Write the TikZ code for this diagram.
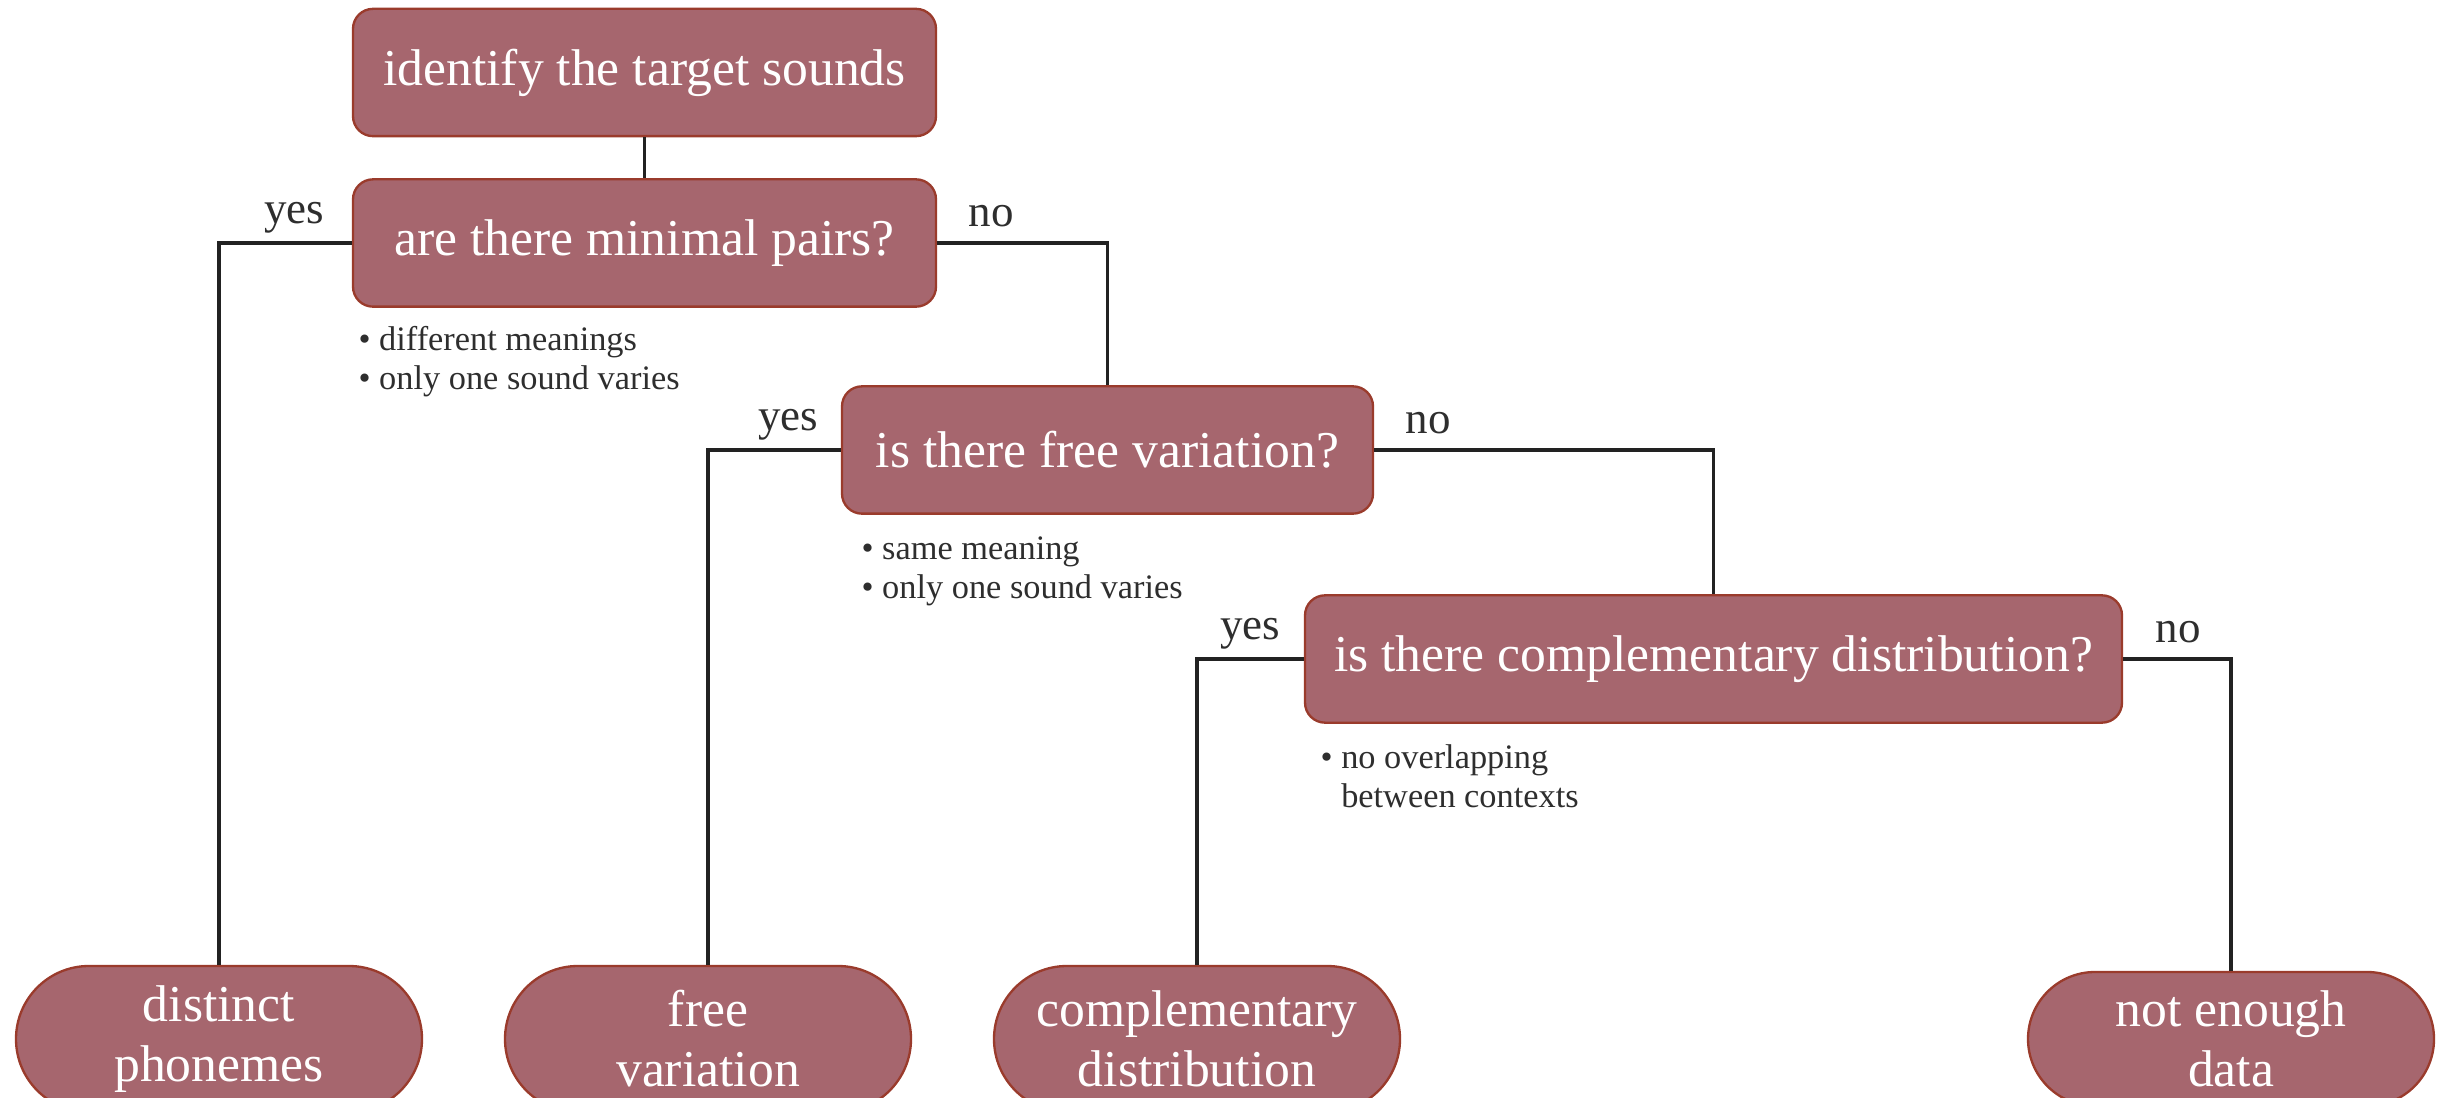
\documentclass[tikz,border=0pt]{standalone}
\usepackage{fontspec}
\setmainfont{Liberation Serif}
\definecolor{boxfill}{HTML}{A6666E}
\definecolor{boxborder}{HTML}{9A3B2C}
\definecolor{linecol}{HTML}{222222}
\definecolor{labcol}{HTML}{2E2E2E}
\begin{document}
\begin{tikzpicture}[x=0.3pt,y=-0.3pt,
  box/.style={draw=boxborder, fill=boxfill, line width=0.7pt, rounded corners=6pt,
    text=white, font=\fontsize{15.5}{18}\selectfont, inner sep=0pt,
    minimum height=38.2pt, align=center},
  endbox/.style={box, rounded corners=21.9pt, minimum width=121.8pt, minimum height=43.8pt},
  conn/.style={draw=linecol, line width=1.1pt},
  lab/.style={text=labcol, font=\fontsize{13.5}{16}\selectfont, inner sep=0pt},
  note/.style={text=labcol, font=\fontsize{10.3}{11.7}\selectfont, align=left,
    anchor=west, inner sep=0pt}]
\useasboundingbox (0,0) rectangle (2450,1098);

\node[box, minimum width=174.9pt] (n1) at (644.5,72.5) {identify the target sounds};
\node[box, minimum width=174.9pt] (n2) at (644.5,243) {are there minimal pairs?};
\node[box, minimum width=159.3pt] (n3) at (1107.5,450) {is there free variation?};
\node[box, minimum width=245.1pt] (n4) at (1713.5,659) {is there complementary distribution?};

\node[endbox] (b1) at (219,1039) {distinct\\phonemes};
\node[endbox] (b2) at (708,1039) {free\\variation};
\node[endbox] (b3) at (1197,1039) {complementary\\distribution};
\node[endbox, minimum height=40.2pt, rounded corners=20.1pt] (b4) at (2231,1039) {not enough\\data};

\draw[conn] (n1) -- (n2);
\draw[conn] (n2.west) -| (b1.north);
\draw[conn] (n2.east) -| (n3.north);
\draw[conn] (n3.west) -| (b2.north);
\draw[conn] (n3.east) -| (n4.north);
\draw[conn] (n4.west) -| (b3.north);
\draw[conn] (n4.east) -| (b4.north);

\node[lab] (y1) at (294,218) {yes};
\node[lab] (o1) at (991,216) {no};
\node[lab] (y2) at (788,425) {yes};
\node[lab] (o2) at (1428,423) {no};
\node[lab] (y3) at (1250,634) {yes};
\node[lab] (o3) at (2178,632) {no};

\node[note] (a1) at (358,361.5) {• different meanings\\• only one sound varies};
\node[note] (a2) at (861,571) {• same meaning\\• only one sound varies};
\node[note] (a3) at (1320,776.5) {• no overlapping\\\phantom{• }between contexts};
\end{tikzpicture}
\end{document}
